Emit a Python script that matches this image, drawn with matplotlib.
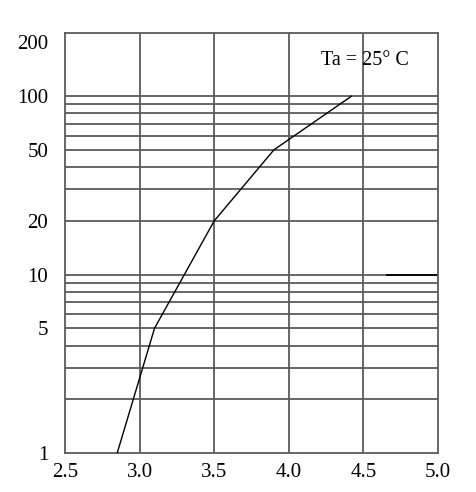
import numpy as np
import matplotlib.pyplot as plt
from matplotlib.ticker import FixedLocator, NullLocator

plt.rcParams['font.family'] = ['Liberation Serif', 'DejaVu Serif']

# curve
vf = [2.85, 3.1, 3.5, 3.9, 4.42]
i_f = [1, 5, 20, 50, 100]

x_ticks = [2.5, 3.0, 3.5, 4.0, 4.5, 5.0]
y_ticks = [1, 5, 10, 20, 50, 100, 200]
y_grid = [2, 3, 4, 5, 6, 7, 8, 9, 10, 20, 30, 40, 50, 60, 70, 80, 90, 100]
x_grid = [3.0, 3.5, 4.0, 4.5]

grid_col = '#5a5a5a'

fig = plt.figure(figsize=(4.77, 4.92), dpi=100)
ax = fig.add_axes([65 / 477, 39 / 492, 373 / 477, 420 / 492])

ax.set_yscale('log')
ax.set_xlim(2.5, 5.0)
ax.set_ylim(1, 226)

for y in y_grid:
    ax.axhline(y, color=grid_col, lw=1.3, zorder=1)
for x in x_grid:
    ax.axvline(x, color=grid_col, lw=1.3, zorder=1)
# darker stub on the 10 line at the right
ax.hlines(10, 4.65, 5.0, color='black', lw=1.3, zorder=2)

ax.plot(vf, i_f, color='black', lw=1.0, zorder=3)

ax.xaxis.set_major_locator(FixedLocator(x_ticks))
ax.set_xticklabels([f'{v:.1f}' for v in x_ticks])
ax.yaxis.set_major_locator(FixedLocator(y_ticks))
ax.yaxis.set_minor_locator(NullLocator())
ax.set_yticklabels([str(v) for v in y_ticks])
ax.tick_params(axis='both', length=0, labelsize=15)
ax.tick_params(axis='x', pad=7)
ax.tick_params(axis='y', pad=12)

for s in ax.spines.values():
    s.set_color(grid_col)
    s.set_linewidth(1.3)

ax.text(0.805, 0.935, 'Ta = 25° C', transform=ax.transAxes,
        ha='center', va='center', fontsize=14.5)

plt.savefig('out.png', dpi=100)
